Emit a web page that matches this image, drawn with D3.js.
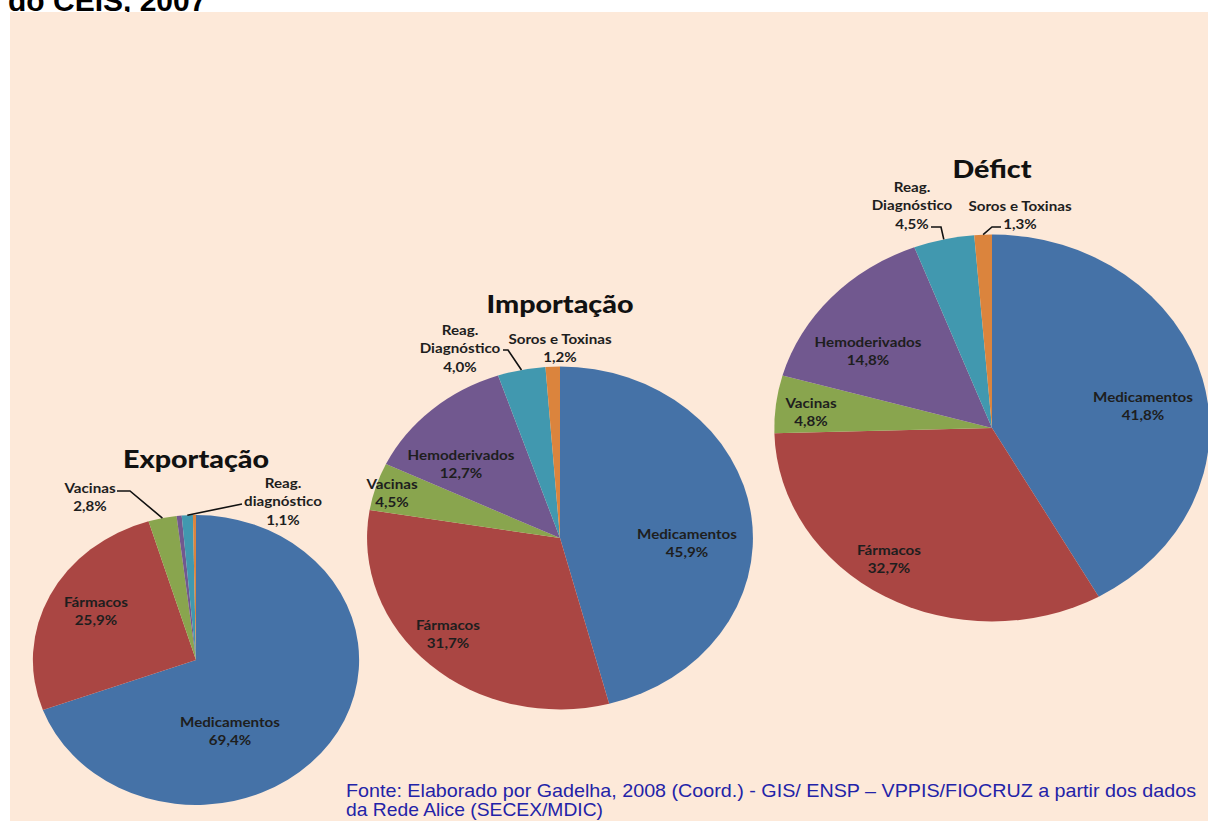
<!DOCTYPE html>
<html><head><meta charset="utf-8">
<script src="https://cdn.jsdelivr.net/npm/d3@7"></script>
<style>body{margin:0;background:#fff;overflow:hidden}</style>
</head><body>
<svg id="chart" width="1208" height="821"></svg>
<script>
// ---- data ----
const categories = ["Medicamentos", "Fármacos", "Vacinas", "Hemoderivados", "Reag. diagnóstico", "Soros e Toxinas"];
const exportacao = [69.4, 25.9, 2.8, 0.5, 1.1, 0.3];
const importacao = [45.9, 31.7, 4.5, 12.7, 4.0, 1.2];
const deficit    = [41.8, 32.7, 4.8, 14.8, 4.5, 1.3];
const chartTitles = ["Exportação", "Importação", "Défict"];
const pageTitle = "do CEIS, 2007";
const sourceLines = [
  "Fonte: Elaborado por Gadelha, 2008 (Coord.) - GIS/ ENSP – VPPIS/FIOCRUZ a partir dos dados",
  "da Rede Alice (SECEX/MDIC)"
];
const colors = ["#4572A7", "#AA4643", "#89A54E", "#71588F", "#4198AF", "#DB843D"];

// ---- layout (positions / styles) ----
const SX = 1.125; // horizontal stretch of the pictures
const layout = [
  { values: exportacao, cx: 196, cy: 660, r: 145, titleDy: -192,
    labels: {
      0: { dx: 34, dy: 62, names: ["Medicamentos"] },
      1: { dx: -100, dy: -58, names: ["Fármacos"] },
      2: { dx: -106, dy: -172, names: ["Vacinas"] },
      4: { dx: 87, dy: -177, names: ["Reag.", "diagnóstico"] }
    },
    leaders: {
      2: [[-79, -169], [-66, -169]],
      4: [[46, -156]]
    }
  },
  { values: importacao, cx: 560, cy: 538, r: 171.5, titleDy: -225,
    labels: {
      0: { dx: 127, dy: -4, names: ["Medicamentos"] },
      1: { dx: -112, dy: 87, names: ["Fármacos"] },
      2: { dx: -168, dy: -54, names: ["Vacinas"] },
      3: { dx: -99, dy: -83, names: ["Hemoderivados"] },
      4: { dx: -100, dy: -208, names: ["Reag.", "Diagnóstico"] },
      5: { dx: 0, dy: -199, names: ["Soros e Toxinas"] }
    },
    leaders: {
      4: [[-57, -188], [-52, -188]]
    }
  },
  { values: deficit, cx: 992, cy: 428, r: 193.5, titleDy: -250,
    labels: {
      0: { dx: 151, dy: -31, names: ["Medicamentos"] },
      1: { dx: -103, dy: 122, names: ["Fármacos"] },
      2: { dx: -181, dy: -25, names: ["Vacinas"] },
      3: { dx: -124, dy: -86, names: ["Hemoderivados"] },
      4: { dx: -80, dy: -241, names: ["Reag.", "Diagnóstico"] },
      5: { dx: 28, dy: -222, names: ["Soros e Toxinas"] }
    },
    leaders: {
      4: [[-61, -201], [-51, -201]],
      5: [[9, -201], [0, -201]]
    }
  }
];

const fmtPct = v => d3.format(".1f")(v).replace(".", ",") + "%";

const svg = d3.select("#chart");

// page title (cut off at top, as in the original)
svg.append("text")
  .attr("x", 8).attr("y", 11)
  .attr("font-family", "'Liberation Sans', Arial, sans-serif")
  .attr("font-weight", "bold").attr("font-size", 30)
  .attr("fill", "#000")
  .text(pageTitle);

// background panel
svg.append("rect")
  .attr("x", 10).attr("y", 12).attr("width", 1198).attr("height", 809)
  .attr("fill", "#FDE9D9");

const pie = d3.pie().sort(null).value(d => d);
const labelFont = "Lato, 'Open Sans', sans-serif";

layout.forEach((cfg, ci) => {
  const arcs = pie(cfg.values);
  const arc = d3.arc().innerRadius(0).outerRadius(cfg.r);
  const g = svg.append("g").attr("transform", `translate(${cfg.cx},${cfg.cy})`);

  // slices (stretched horizontally)
  g.append("g").attr("transform", `scale(${SX},1)`)
    .selectAll("path").data(arcs).join("path")
    .attr("d", arc)
    .attr("fill", (d, i) => colors[i]);

  // leader lines: from label end to slice edge midpoint
  Object.entries(cfg.leaders).forEach(([idx, pts]) => {
    const a = arcs[+idx];
    const mid = (a.startAngle + a.endAngle) / 2;
    const edge = [Math.sin(mid) * cfg.r * SX, -Math.cos(mid) * cfg.r];
    g.append("path")
      .attr("d", d3.line()([...pts, edge]))
      .attr("fill", "none").attr("stroke", "#111").attr("stroke-width", 1.6);
  });

  // title
  g.append("text")
    .attr("transform", `translate(0,${cfg.titleDy}) scale(${SX},1)`)
    .attr("text-anchor", "middle")
    .attr("font-family", labelFont).attr("font-weight", 900)
    .attr("font-size", 25.5).attr("fill", "#111")
    .text(chartTitles[ci]);

  // data labels
  Object.entries(cfg.labels).forEach(([idx, lab]) => {
    const lines = [...lab.names, fmtPct(cfg.values[+idx])];
    const t = g.append("text")
      .attr("transform", `translate(${lab.dx},${lab.dy}) scale(${SX},1)`)
      .attr("text-anchor", "middle")
      .attr("font-family", labelFont).attr("font-weight", "bold")
      .attr("font-size", 13.5).attr("fill", "#1e1e1e");
    lines.forEach((s, k) => {
      t.append("tspan").attr("x", 0).attr("y", k * 18.5).attr("dy", "0.35em").text(s);
    });
  });
});

// source note
const srcLengths = [850, 257];
const src = svg.append("text")
  .attr("font-family", "'Liberation Sans Narrow', 'Liberation Sans', Arial, sans-serif")
  .attr("font-size", 19).attr("fill", "#2323A8");
sourceLines.forEach((s, k) => {
  src.append("tspan").attr("x", 346).attr("y", 797 + k * 19)
    .attr("textLength", srcLengths[k]).attr("lengthAdjust", "spacingAndGlyphs")
    .text(s);
});
</script>
</body></html>
